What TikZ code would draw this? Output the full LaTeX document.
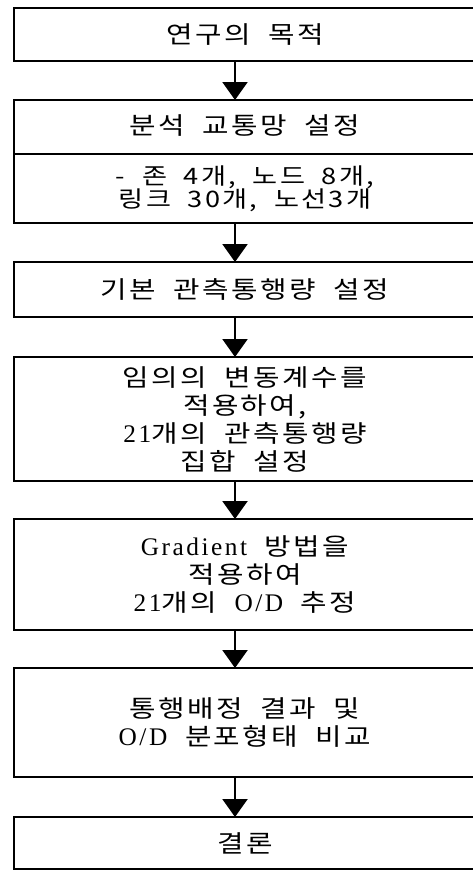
\documentclass[tikz,border=0pt]{standalone}
\usepackage{fontspec}
\setmainfont{Noto Sans CJK KR}[FakeStretch=1.2, LetterSpace=10, WordSpace=2]
\newfontfamily\latserif{Liberation Serif}[LetterSpace=10]
\newcommand\latw[1]{{\latserif\fontsize{19pt}{21pt}\selectfont #1}}
\AtBeginDocument{\lineskiplimit=-100pt\relax}
\usetikzlibrary{arrows.meta}
\tikzset{
  box/.style={draw, line width=1.8pt, inner sep=0pt, outer sep=0pt,
    minimum width=346.5pt, align=center,
    font=\fontsize{18pt}{21pt}\selectfont},
  hpx/.style={minimum height=#1*0.75pt},
  arr/.style={line width=1.7pt, -{Triangle[width=18.75pt,length=13.5pt]}}
}
\begin{document}
\begin{tikzpicture}[x=0.75pt,y=-0.75pt]
\useasboundingbox (0,0) rectangle (473,871);
\clip (0,0) rectangle (473,871);
\coordinate (ax) at (235,0);
\node[box, hpx=53] (b1) at (245,34.5) {연구의 목적};
\node[box, hpx=54] (b2a) at (245,127) {\raisebox{3pt}{분석 교통망 설정}};
\node[box, hpx=69, font=\fontsize{17pt}{17pt}\selectfont] (b2b) at (245,188.5) {- 존 4개, 노드 8개,\\링크 30개, 노선3개};
\node[box, hpx=55] (b3) at (245,289.5) {기본 관측통행량 설정};
\node[box, hpx=124] (b4) at (245,419) {임의의 변동계수를\\적용하여,\\\latw{21}개의 관측통행량\\집합 설정};
\node[box, hpx=111] (b5) at (245,574.5) {\latw{Gradient} 방법을\\적용하여\\\latw{21}개의 \latw{O/D} 추정};
\node[box, hpx=109] (b6) at (245,722.5) {통행배정 결과 및\\\latw{O/D} 분포형태 비교};
\node[box, hpx=52] (b7) at (245,843) {\raisebox{-3pt}{결론}};
\draw[arr] (b1.south -| ax) -- (b2a.north -| ax);
\draw[arr] (b2b.south -| ax) -- (b3.north -| ax);
\draw[arr] (b3.south -| ax) -- (b4.north -| ax);
\draw[arr] (b4.south -| ax) -- (b5.north -| ax);
\draw[arr] (b5.south -| ax) -- (b6.north -| ax);
\draw[arr] (b6.south -| ax) -- (b7.north -| ax);
\end{tikzpicture}
\end{document}
